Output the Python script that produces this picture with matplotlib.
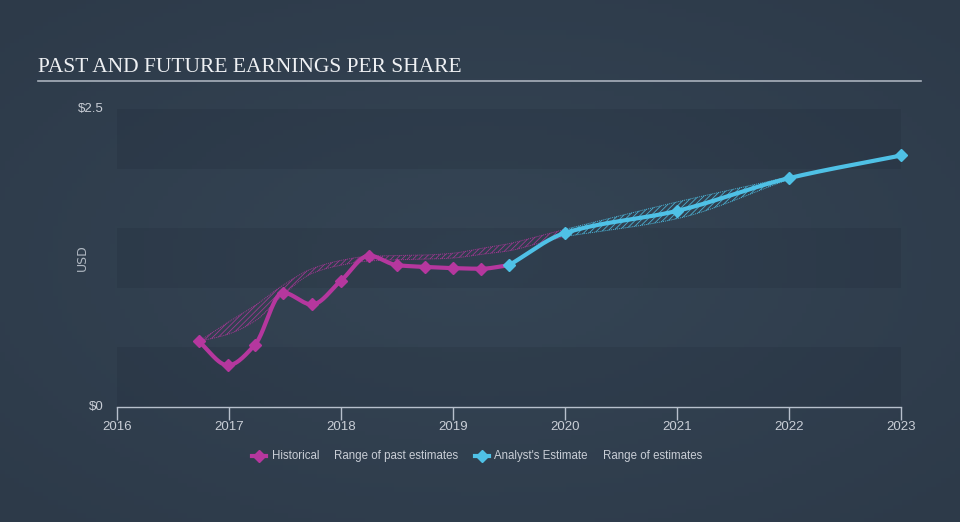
import numpy as np
import matplotlib
matplotlib.use("Agg")
import matplotlib.pyplot as plt
from matplotlib.lines import Line2D
from matplotlib import font_manager

# ---- data ----
hist_x = [2016.73, 2016.99, 2017.23, 2017.48, 2017.74, 2018.0, 2018.25, 2018.5, 2018.75, 2019.0, 2019.25, 2019.5]
hist_y = [0.55, 0.35, 0.52, 0.96, 0.86, 1.06, 1.27, 1.19, 1.175, 1.165, 1.16, 1.19]

est_x = [2019.5, 2020.0, 2021.0, 2022.0, 2023.0]
est_y = [1.19, 1.46, 1.645, 1.92, 2.11]

past_x = [2016.73, 2016.99, 2017.23, 2017.48, 2017.74, 2018.0, 2018.25, 2018.5, 2018.75, 2019.0, 2019.25, 2019.5, 2019.75, 2020.0]
past_hi = [0.55, 0.71, 0.85, 1.02, 1.16, 1.23, 1.265, 1.27, 1.275, 1.29, 1.33, 1.37, 1.43, 1.49]
past_lo = [0.55, 0.61, 0.72, 0.94, 1.12, 1.19, 1.225, 1.235, 1.24, 1.25, 1.28, 1.31, 1.37, 1.43]

fut_x = [2020.0, 2021.0, 2022.0]
fut_hi = [1.49, 1.72, 1.93]
fut_lo = [1.43, 1.58, 1.91]

x_ticks = [2016, 2017, 2018, 2019, 2020, 2021, 2022, 2023]
y_ticks = [0, 2.5]
y_tick_labels = ["$0", "$2.5"]
legend_labels = ["Historical", "Range of past estimates", "Analyst's Estimate", "Range of estimates"]

MAG = "#b5379e"
CYA = "#4fc1e6"
TXT = "#c9ced6"

avail = {f.name for f in font_manager.fontManager.ttflist}
narrow = ["Liberation Sans Narrow"] if "Liberation Sans Narrow" in avail else []
SANS = narrow + ["Liberation Sans", "DejaVu Sans"]


def monotone(x, y, n=300):
    x = np.asarray(x, float); y = np.asarray(y, float)
    h = np.diff(x); d = np.diff(y) / h
    m = np.zeros_like(y)
    m[0] = d[0]; m[-1] = d[-1]
    for i in range(1, len(y) - 1):
        if d[i - 1] * d[i] <= 0:
            m[i] = 0
        else:
            w1 = 2 * h[i] + h[i - 1]; w2 = h[i] + 2 * h[i - 1]
            m[i] = (w1 + w2) / (w1 / d[i - 1] + w2 / d[i])
    xs = np.linspace(x[0], x[-1], n)
    idx = np.clip(np.searchsorted(x, xs) - 1, 0, len(x) - 2)
    t = (xs - x[idx]) / h[idx]
    h00 = 2 * t**3 - 3 * t**2 + 1; h10 = t**3 - 2 * t**2 + t
    h01 = -2 * t**3 + 3 * t**2; h11 = t**3 - t**2
    ys = h00 * y[idx] + h10 * h[idx] * m[idx] + h01 * y[idx + 1] + h11 * h[idx] * m[idx + 1]
    return xs, ys


fig = plt.figure(figsize=(9.6, 5.22), dpi=100)

# background gradient
bg = fig.add_axes([0, 0, 1, 1], zorder=-10)
gx, gy = np.meshgrid(np.linspace(-1, 1, 200), np.linspace(-1, 1, 120))
r = np.sqrt(gx**2 + gy**2) / np.sqrt(2)
c_in = np.array([0x35, 0x45, 0x55]) / 255
c_out = np.array([0x2d, 0x3a, 0x49]) / 255
img = c_in[None, None, :] * (1 - r[..., None]) + c_out[None, None, :] * r[..., None]
bg.imshow(img, aspect="auto", extent=[0, 1, 0, 1])
bg.set_axis_off()

L, R = 117 / 960, 901 / 960
B, T = (522 - 407) / 522, (522 - 109) / 522
ax = fig.add_axes([L, B, R - L, T - B])
ax.set_facecolor("none")
ax.set_xlim(2016, 2023)
ax.set_ylim(0, 2.5)

for lo in [0, 1.0, 2.0]:
    ax.axhspan(lo, lo + 0.5, color="#1c2533", alpha=0.17, lw=0, zorder=0)

plt.rcParams["hatch.linewidth"] = 0.6

px, phi = monotone(past_x, past_hi)
_, plo = monotone(past_x, past_lo)
ax.fill_between(px, plo, phi, facecolor="none", edgecolor=MAG, hatch="//////", lw=0, alpha=0.8, zorder=2)
ax.plot(px, phi, color=MAG, lw=0.7, ls=(0, (1, 1)), alpha=0.85, zorder=2)
ax.plot(px, plo, color=MAG, lw=0.7, ls=(0, (1, 1)), alpha=0.85, zorder=2)

fx, fhi = monotone(fut_x, fut_hi)
_, flo = monotone(fut_x, fut_lo)
ax.fill_between(fx, flo, fhi, facecolor="none", edgecolor=CYA, hatch="//////", lw=0, alpha=0.85, zorder=2)
ax.plot(fx, fhi, color=CYA, lw=0.7, ls=(0, (1, 1)), alpha=0.9, zorder=2)
ax.plot(fx, flo, color=CYA, lw=0.7, ls=(0, (1, 1)), alpha=0.9, zorder=2)

hx, hy = monotone(hist_x, hist_y)
ax.plot(hx, hy, color=MAG, lw=3, solid_capstyle="round", zorder=3)
ax.plot(hist_x[:-1], hist_y[:-1], ls="none", marker="D", ms=6, color=MAG, zorder=4, clip_on=False)

ex, ey = monotone(est_x, est_y)
ax.plot(ex, ey, color=CYA, lw=3, solid_capstyle="round", zorder=3, clip_on=False)
ax.plot(est_x, est_y, ls="none", marker="D", ms=6, color=CYA, zorder=4, clip_on=False)

for s in ["top", "right", "left"]:
    ax.spines[s].set_visible(False)
ax.spines["bottom"].set_color("#b7c0cc")
ax.spines["bottom"].set_linewidth(1)
ax.set_xticks(x_ticks)
ax.set_xticklabels([str(t) for t in x_ticks], family=SANS, fontsize=9.5, color=TXT)
ax.tick_params(axis="x", length=9, width=1, color="#b7c0cc", pad=1)
ax.set_yticks([])
for v, lab in zip(y_ticks, y_tick_labels):
    ax.text(-0.017, v, lab, transform=ax.get_yaxis_transform(), ha="right", va="center",
            family=SANS, fontsize=9.5, color=TXT)
fig.text(82 / 960, 1 - 258 / 522, "USD", rotation=90, ha="center", va="center",
         family=["DejaVu Sans"], fontsize=9, color="#b0b8c2")

# title
fig.text(38 / 960, 1 - 67 / 522, "PAST AND FUTURE EARNINGS PER SHARE", ha="left", va="center",
         family=["Liberation Serif", "DejaVu Serif"], fontsize=15.5, color="#eef0f3")
fig.add_artist(Line2D([38 / 960, 921 / 960], [1 - 81 / 522, 1 - 81 / 522], color="#a9b1bc", lw=1.2))

# legend
ly = 1 - 456 / 522
fig.add_artist(Line2D([252 / 960, 266 / 960], [ly, ly], color=MAG, lw=3))
fig.add_artist(Line2D([259 / 960], [ly], color=MAG, marker="D", ms=6, ls="none"))
fig.text(272 / 960, ly, legend_labels[0], ha="left", va="center", family=SANS, fontsize=8.3, color=TXT)
fig.text(334 / 960, ly, legend_labels[1], ha="left", va="center", family=SANS, fontsize=8.3, color=TXT)
fig.add_artist(Line2D([475 / 960, 489 / 960], [ly, ly], color=CYA, lw=3))
fig.add_artist(Line2D([482 / 960], [ly], color=CYA, marker="D", ms=6, ls="none"))
fig.text(494 / 960, ly, legend_labels[2], ha="left", va="center", family=SANS, fontsize=8.3, color=TXT)
fig.text(603 / 960, ly, legend_labels[3], ha="left", va="center", family=SANS, fontsize=8.3, color=TXT)

fig.savefig("out.png", dpi=100)
